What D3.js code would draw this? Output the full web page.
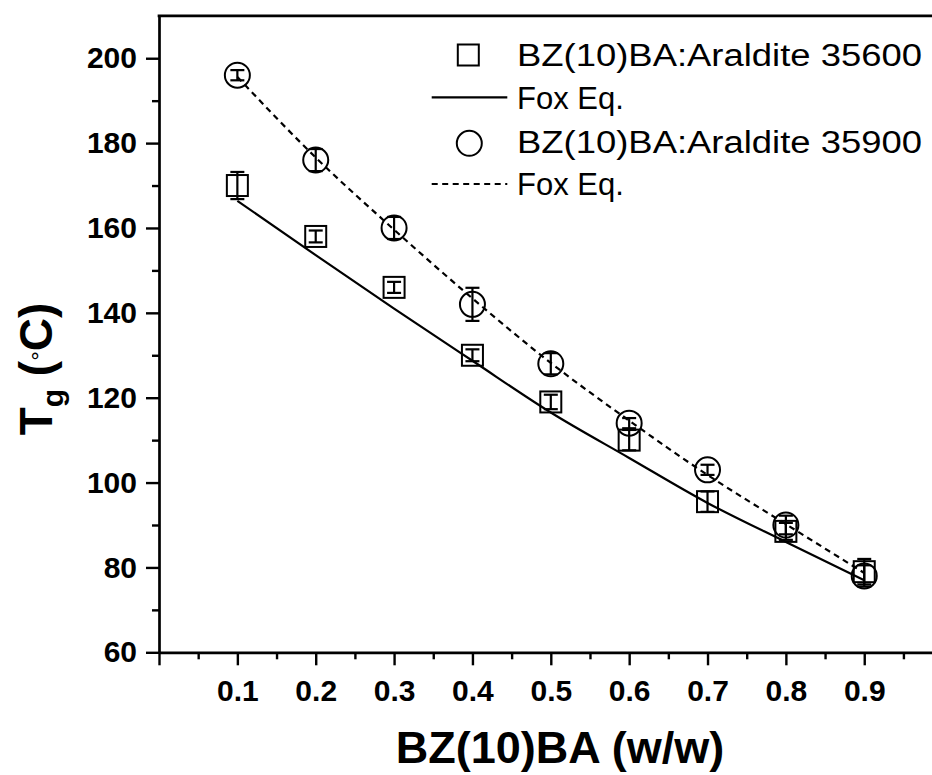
<!DOCTYPE html>
<html>
<head>
<meta charset="utf-8">
<script src="https://cdn.jsdelivr.net/npm/d3@7"></script>
<style>
  html, body { margin: 0; padding: 0; background: #ffffff; }
  svg { display: block; }
  text { font-family: "Liberation Sans", Arial, Helvetica, sans-serif; }
</style>
</head>
<body>
<div id="chart"></div>
<script>
// ---------------- data ----------------
const wFraction = [0.1, 0.2, 0.3, 0.4, 0.5, 0.6, 0.7, 0.8, 0.9];

// BZ(10)BA:Araldite 35600 (squares) measured Tg and error
const tg35600  = [170, 158, 146, 130, 119, 110, 95.5, 88.5, 79];
const err35600 = [3.2, 1.4, 1.3, 1.4, 1.7, 2.4, 2.4, 2.0, 3.0];
// Fox Eq. curve for 35600 (solid)
const fox35600 = [166.4, 153.6, 141, 128.7, 116.5, 105.8, 95.2, 86, 77];

// BZ(10)BA:Araldite 35900 (circles) measured Tg and error
const tg35900  = [196, 176, 160, 142, 128, 114, 103, 90, 78];
const err35900 = [1.2, 2.6, 2.6, 3.9, 2.5, 1.2, 1.2, 2.2, 2.5];
// Fox Eq. curve for 35900 (dashed)
const fox35900 = [195.6, 176.6, 159.6, 143.4, 128.2, 114.6, 101.8, 90.2, 78.7];

const xMajorTicks = [0, 0.1, 0.2, 0.3, 0.4, 0.5, 0.6, 0.7, 0.8, 0.9, 1.0];
const xTickLabels = ["", "0.1", "0.2", "0.3", "0.4", "0.5", "0.6", "0.7", "0.8", "0.9", ""];
const xMinorTicks = [0.05, 0.15, 0.25, 0.35, 0.45, 0.55, 0.65, 0.75, 0.85, 0.95];
const yMajorTicks = [60, 80, 100, 120, 140, 160, 180, 200];
const yMinorTicks = [70, 90, 110, 130, 150, 170, 190];

const legendLabels = ["BZ(10)BA:Araldite 35600", "Fox Eq.", "BZ(10)BA:Araldite 35900", "Fox Eq."];

// ---------------- drawing ----------------
const W = 932, H = 775;
const svg = d3.select("#chart").append("svg").attr("width", W).attr("height", H);
svg.append("rect").attr("width", W).attr("height", H).attr("fill", "#fff");

const x = d3.scaleLinear().domain([0, 1]).range([159, 942.6]);
const y = d3.scaleLinear().domain([60, 210]).range([652.3, 15.8]);

const AXW = 2.7;

// axes
const gx = svg.append("g").attr("transform", `translate(0,${y(60)})`)
  .call(d3.axisBottom(x).tickValues(xMajorTicks).tickSize(13).tickSizeOuter(0).tickPadding(14)
    .tickFormat((d, i) => xTickLabels[i]));
const gxm = svg.append("g").attr("transform", `translate(0,${y(60)})`)
  .call(d3.axisBottom(x).tickValues(xMinorTicks).tickSize(7).tickFormat(""));
gxm.select(".domain").remove();

const gy = svg.append("g").attr("transform", `translate(${x(0)},0)`)
  .call(d3.axisLeft(y).tickValues(yMajorTicks).tickSize(13).tickSizeOuter(0).tickPadding(9));
const gym = svg.append("g").attr("transform", `translate(${x(0)},0)`)
  .call(d3.axisLeft(y).tickValues(yMinorTicks).tickSize(7).tickFormat(""));
gym.select(".domain").remove();

[gx, gxm, gy, gym].forEach(g => {
  g.selectAll(".domain").attr("stroke", "#000").attr("stroke-width", AXW);
  g.selectAll(".tick line").attr("stroke", "#000").attr("stroke-width", 2.4);
  g.selectAll(".tick text").attr("fill", "#000").attr("font-size", 30)
    .attr("font-weight", "bold").attr("font-family", "'Liberation Sans', Arial, sans-serif");
});

// top border
svg.append("line")
  .attr("x1", x(0) - AXW / 2).attr("x2", x(1))
  .attr("y1", y(210)).attr("y2", y(210))
  .attr("stroke", "#000").attr("stroke-width", AXW);

// Fox curves
const line = d3.line().x((d, i) => x(wFraction[i])).y(d => y(d)).curve(d3.curveMonotoneX);
svg.append("path").attr("d", line(fox35600)).attr("fill", "none")
  .attr("stroke", "#000").attr("stroke-width", 2.2);
svg.append("path").attr("d", line(fox35900)).attr("fill", "none")
  .attr("stroke", "#000").attr("stroke-width", 2.2).attr("stroke-dasharray", "6,4.5");

// error bars
function errorBars(vals, errs) {
  const g = svg.append("g").attr("stroke", "#000").attr("stroke-width", 2.2);
  vals.forEach((v, i) => {
    const cx = x(wFraction[i]);
    const y1 = y(v - errs[i]), y2 = y(v + errs[i]);
    g.append("line").attr("x1", cx).attr("x2", cx).attr("y1", y1).attr("y2", y2);
    g.append("line").attr("x1", cx - 7).attr("x2", cx + 7).attr("y1", y1).attr("y2", y1);
    g.append("line").attr("x1", cx - 7).attr("x2", cx + 7).attr("y1", y2).attr("y2", y2);
  });
}
errorBars(tg35600, err35600);
errorBars(tg35900, err35900);

// markers
const SQ = 21, R = 12.5;
svg.append("g").selectAll("rect").data(tg35600).join("rect")
  .attr("x", (d, i) => x(wFraction[i]) - SQ / 2).attr("y", d => y(d) - SQ / 2)
  .attr("width", SQ).attr("height", SQ)
  .attr("fill", "none").attr("stroke", "#000").attr("stroke-width", 2);
svg.append("g").selectAll("circle").data(tg35900).join("circle")
  .attr("cx", (d, i) => x(wFraction[i])).attr("cy", d => y(d)).attr("r", R)
  .attr("fill", "none").attr("stroke", "#000").attr("stroke-width", 2);

// legend
const lg = svg.append("g");
const rowsY = [66, 108.5, 152.5, 195];
const textX = 517;
lg.append("rect").attr("x", 468.3 - SQ / 2).attr("y", 55 - SQ / 2).attr("width", SQ).attr("height", SQ)
  .attr("fill", "none").attr("stroke", "#000").attr("stroke-width", 2);
lg.append("line").attr("x1", 431.7).attr("x2", 507.3).attr("y1", 97.3).attr("y2", 97.3)
  .attr("stroke", "#000").attr("stroke-width", 2.2);
lg.append("circle").attr("cx", 469.3).attr("cy", 143.3).attr("r", R)
  .attr("fill", "none").attr("stroke", "#000").attr("stroke-width", 2);
lg.append("line").attr("x1", 431.7).attr("x2", 507.3).attr("y1", 184).attr("y2", 184)
  .attr("stroke", "#000").attr("stroke-width", 2.2).attr("stroke-dasharray", "6,4.5");
legendLabels.forEach((t, i) => {
  const tx = lg.append("text").attr("x", textX).attr("y", rowsY[i])
    .attr("font-size", 31).attr("fill", "#000").text(t);
  if (t.length > 10) tx.attr("textLength", 405).attr("lengthAdjust", "spacingAndGlyphs");
});

// axis titles
svg.append("text").attr("x", 560).attr("y", 763).attr("text-anchor", "middle")
  .attr("font-size", 45).attr("font-weight", "bold").attr("fill", "#000")
  .text("BZ(10)BA (w/w)");

const yt = svg.append("text")
  .attr("transform", "translate(52,369) rotate(-90)")
  .attr("text-anchor", "middle").attr("font-weight", "bold").attr("fill", "#000");
yt.append("tspan").attr("font-size", 46).text("T");
yt.append("tspan").attr("font-size", 30).attr("dy", 11).text("g");
yt.append("tspan").attr("font-size", 46).attr("dy", -11).text(" (");
yt.append("tspan").attr("font-size", 24).attr("font-weight", "normal").attr("dy", -4).text("°");
yt.append("tspan").attr("font-size", 46).attr("dy", 4).text("C)");
</script>
</body>
</html>
